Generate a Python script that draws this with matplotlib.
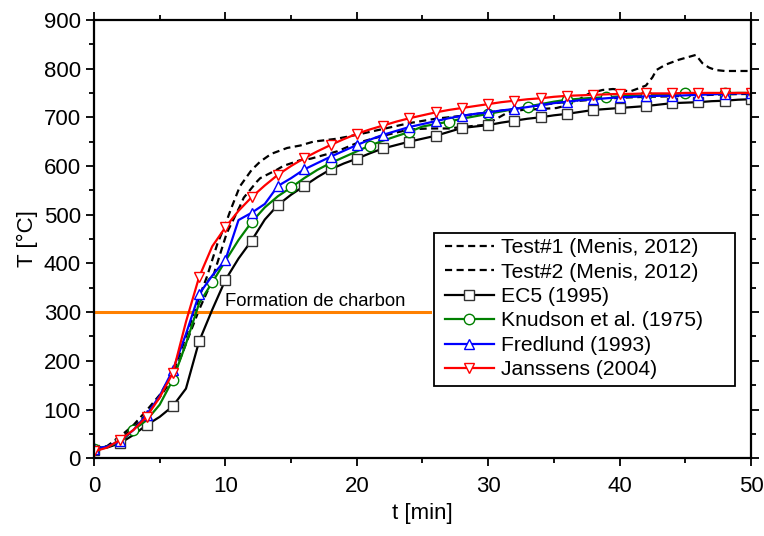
import matplotlib
matplotlib.use("Agg")
import matplotlib.pyplot as plt
from matplotlib.patches import Rectangle
from matplotlib.ticker import MultipleLocator

plt.rcParams['font.family'] = ['Liberation Sans', 'DejaVu Sans']

# time grid for the model curves (1 min steps)
t_min = list(range(0, 51))

ec5 = [18, 22, 31, 48, 68, 85, 107, 143, 240, 305, 366, 410, 447, 490, 520, 541, 559,
       577, 593, 605, 615, 626, 636, 643, 650, 656, 662, 670, 678, 681, 684, 689, 693,
       697, 700, 704, 707, 711, 715, 717, 719, 721, 723, 726, 729, 730, 731, 733, 734,
       736, 737]
knudson = [20, 24, 33, 58, 78, 110, 161, 235, 318, 361, 405, 448, 485, 515, 538, 556,
           575, 592, 606, 618, 630, 642, 652, 661, 670, 681, 686, 691, 697, 702, 707, 712,
           717, 722, 727, 732, 736, 738, 740, 741, 743, 744, 745, 746, 748, 749, 749, 749,
           749, 750, 750]
fredlund = [20, 24, 36, 58, 89, 128, 181, 255, 337, 375, 407, 489, 504, 522, 559, 575,
            593, 606, 619, 631, 643, 654, 664, 672, 680, 686, 692, 698, 703, 707, 710, 714,
            717, 721, 725, 729, 732, 735, 737, 739, 741, 742, 743, 744, 744, 745, 746, 747,
            748, 749, 749]
janssens = [14, 22, 38, 58, 85, 125, 175, 280, 372, 435, 474, 508, 536, 560, 582, 600,
            616, 630, 643, 655, 666, 675, 683, 691, 698, 704, 710, 715, 719, 723, 727, 731,
            734, 737, 739, 742, 744, 745, 746, 747, 748, 748, 749, 749, 749, 750, 750, 750,
            750, 750, 750]

# test curves
t_test1 = [0, 1, 2, 3, 4, 5, 6, 7, 8, 8.6, 9.4, 10, 10.4, 11.1, 12, 12.65, 13.5, 14.7,
           15.7, 16.7, 18.5, 20, 22, 24, 26, 28, 30, 32, 34, 36, 38, 40, 42, 44, 46, 48, 50]
test1 = [20, 25, 45, 68, 98, 130, 175, 250, 330, 373, 441, 480, 510, 558, 592, 609, 625,
         637, 642, 650, 656, 664, 676, 688, 697, 703, 710, 717, 725, 732, 736, 740, 742,
         743, 745, 747, 748]
t_test2 = [0, 1, 2, 3, 4, 5, 6, 7, 8, 8.9, 10.1, 11.1, 11.4, 12.4, 12.65, 13.9, 14.4, 15.7,
           16.5, 18.5, 20, 22, 24, 25.5, 27, 28, 29.6, 30.5, 31.5, 32.6, 34, 35.2, 36.2, 37,
           37.7, 38.7, 39.5, 40.8, 42, 42.5, 42.8, 43.5, 44.5, 45.8, 46.3, 46.8, 47.3, 48,
           49, 50]
test2 = [20, 24, 40, 62, 90, 125, 165, 235, 305, 359, 462, 517, 535, 568, 575, 592, 600,
         612, 615, 630, 647, 662, 675, 677, 677, 680, 684, 695, 710, 715, 717, 719, 726, 738,
         749, 756, 758, 753, 765, 782, 797, 808, 818, 828, 811, 802, 797, 795, 795, 795]

t_char = [0, 25.6]
T_char = 300

fig = plt.figure(figsize=(7.64, 5.36), dpi=100)
ax = fig.add_axes([0.123, 0.145, 0.860, 0.818])

ax.plot(t_test1, test1, color='black', lw=1.6, dashes=(3.2, 2), label='Test#1 (Menis, 2012)')
ax.plot(t_test2, test2, color='black', lw=1.6, dashes=(3.2, 2), label='Test#2 (Menis, 2012)')
ax.plot(t_char, [T_char, T_char], color='#ff8000', lw=2.2)
ax.text(10.0, 304, 'Formation de charbon', fontsize=13.3, va='bottom', ha='left')

mk = dict(mfc='white', ms=7.5, lw=1.6, mew=1.0)
ax.plot(t_min, ec5, color='black', marker='s', markevery=2, mec='#333333',
        label='EC5 (1995)', **mk)
ax.plot(t_min, knudson, color='#008000', marker='o', markevery=3, mec='#008000',
        label='Knudson et al. (1975)', **mk)
ax.plot(t_min, fredlund, color='#0000ff', marker='^', markevery=2, mec='#0000ff',
        label='Fredlund (1993)', **mk)
ax.plot(t_min, janssens, color='#ff0000', marker='v', markevery=2, mec='#ff0000',
        label='Janssens (2004)', **mk)

ax.set_xlim(0, 50)
ax.set_ylim(0, 900)
ax.xaxis.set_major_locator(MultipleLocator(10))
ax.xaxis.set_minor_locator(MultipleLocator(5))
ax.yaxis.set_major_locator(MultipleLocator(100))
ax.yaxis.set_minor_locator(MultipleLocator(50))
ax.tick_params(which='both', direction='out', top=True, right=True, width=1.3,
               labelsize=16)
ax.tick_params(which='major', length=6)
ax.tick_params(which='minor', length=3.5)
ax.tick_params(axis='x', which='major', pad=7)
for s in ax.spines.values():
    s.set_linewidth(1.6)

ax.set_xlabel('t [min]', fontsize=16, labelpad=4)
ax.set_ylabel('T [°C]', fontsize=16, labelpad=4)

# legend box is wider than its text in the original
ax.add_patch(Rectangle((0.5175, 0.165), 0.458, 0.349, transform=ax.transAxes,
                       facecolor='white', edgecolor='black', lw=1.3, zorder=4))
leg = ax.legend(loc='upper left', bbox_to_anchor=(0.528, 0.512), fontsize=15.2,
                numpoints=1, handlelength=2.3, handletextpad=0.35, borderpad=0.2,
                labelspacing=0.26, frameon=False, borderaxespad=0)
leg.set_zorder(5)

fig.savefig('out.png', dpi=100)
